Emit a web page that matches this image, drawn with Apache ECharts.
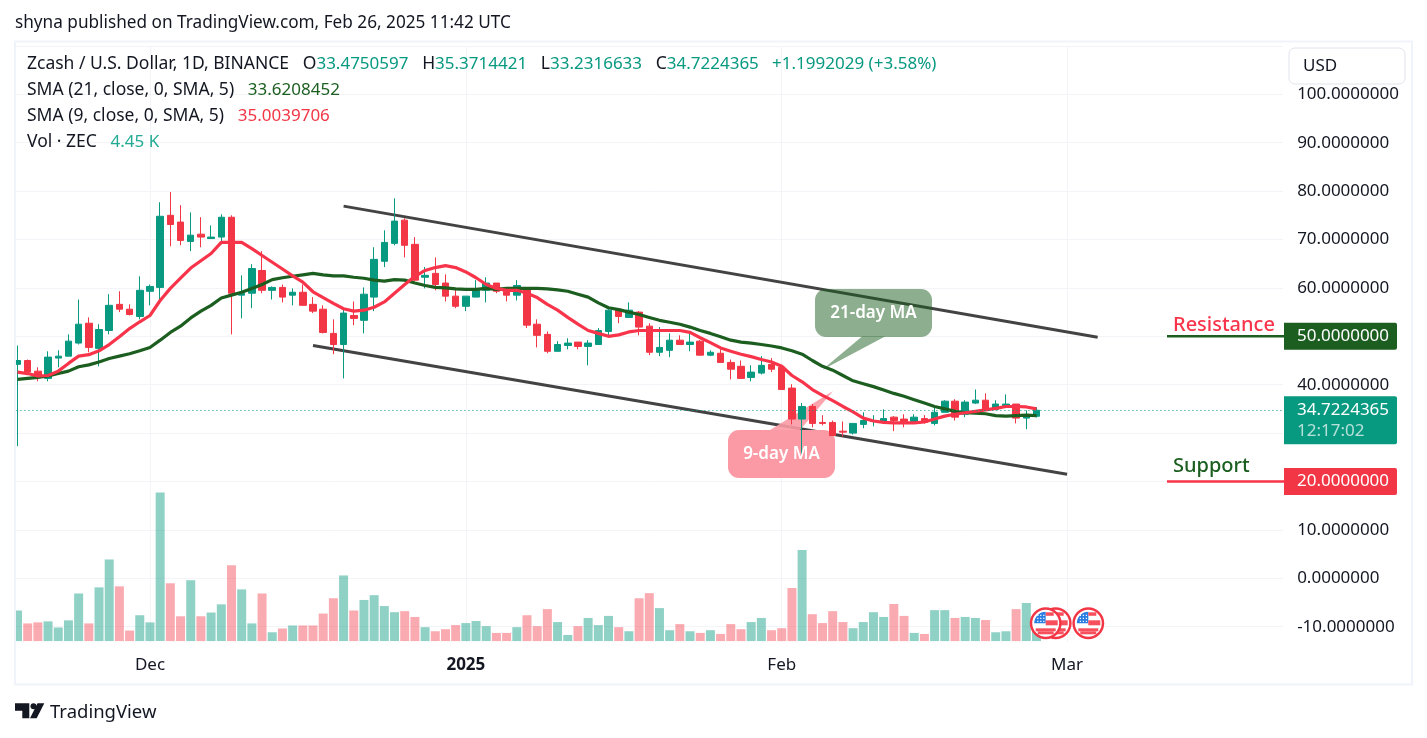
<!DOCTYPE html>
<html>
<head>
<meta charset="utf-8">
<script src="https://cdn.jsdelivr.net/npm/echarts@6/dist/echarts.min.js"></script>
<style>html,body{margin:0;padding:0;background:#fff}#c{width:1427px;height:738px}</style>
</head>
<body>
<div id="c"></div>
<script>
const startDate = '2024-11-18';
const tickDates = ['2024-12-01','2025-01-01','2025-02-01','2025-03-01'];
const tickLabels = ['Dec','2025','Feb','Mar'];
const priceTicks = [100,90,80,70,60,50,40,30,20,10,0,-10];

const opens = [44.2,45,42.8,41.3,45.5,45.9,48.6,52.7,47.5,51.2,
56.6,55.6,54.1,59.3,60.1,75,73.6,69.6,71.1,70.2,
70.5,74.6,58.5,58.9,63.6,59.5,60.1,58.5,59.1,56.6,
55.6,50.6,48.3,54.3,53.3,58.1,65.5,69.2,74,69,
62.2,63,61,58.3,56.2,58.1,59.5,61,59.3,58.5,
59.9,52.5,50.4,46.9,48.1,48.8,47.9,48.3,51,55.6,
53.9,55,52.1,46.7,47.1,49.2,48.3,49,46.1,46.5,
44.6,43.8,41.5,42.4,44.2,43.6,39.3,32.9,35.5,32.2,
32.2,30.4,30,31.8,32.4,32.4,33.3,32.9,32.4,33,
32,34.3,36.6,33.9,36.2,36.8,34.9,35.7,36,33.1,33.475];
const closes = [45,42.6,41.5,45.7,45.9,49,52.5,47.7,51.4,56.4,
55.6,54.5,59.5,60.3,74.8,73.1,69.8,70.9,70.5,70.5,
74.6,58.9,58.9,64,59.5,60.1,58.1,59.1,56.4,55.2,
50.8,48.3,54.8,53.7,58.7,65.9,69.4,73.8,68.8,61.6,
62.6,60.7,58.3,56.2,58.3,59.5,61,59.3,58.5,60.5,
52.3,50.2,46.9,48.3,48.6,47.9,48.6,51.2,55.4,54.1,
55.4,51.9,46.7,47.7,49.2,48.3,48.8,46.1,46.7,44.6,
43.2,41.3,42.6,44,43.2,39,32.9,35.5,32,32,
29.5,30.2,32,32.6,32.6,33,32.6,32.4,33.3,32.2,
34.3,36.6,33.3,36.4,36.8,34.9,36,36,33.1,33.7,34.722];
const highs = [48.1,45.2,43.6,46.9,47.1,50.4,57.6,53.9,52.5,58.7,
59.3,56.6,62.4,60.7,77.7,79.8,77.1,75.6,74.6,72.9,
75.2,75,62.6,64.9,67.6,60.3,60.7,59.9,60.7,58.1,
56.4,53.5,56,57.2,60.1,68.4,71.9,78.5,74.4,70.5,
64.3,66.3,62.8,59.7,58.3,61.6,62.2,61,59.9,61.6,
60.1,53.5,51,49,49.6,48.8,49.2,51.7,55.6,55.8,
57,55.2,52.7,51.9,50.6,50.2,50.6,49.2,47.1,47.3,
45.2,45,44,45.9,45.5,43.8,40.1,36.2,36,33.7,
32.6,32.4,32,34.3,33.7,34.9,33.5,33.9,33.9,33.7,
35.5,36.8,37,36.8,39,38.2,36.8,38,36,34.7,35.371];
const lows = [27.3,42.6,40.7,40.7,43.6,45.9,48.3,46.7,43.8,50.4,
55,54.3,53.5,56.4,57.4,68.6,68.8,67.6,68.4,70.2,
69,50.4,53.7,55.8,58.9,57.6,57,56.4,56.4,54.8,
50.6,46.3,41.3,52.3,50.6,55.2,64.3,68.8,66.3,61.4,
59.9,59.5,57.2,55.8,55.2,58.1,57,58.9,57.2,57.4,
51.7,47.7,46.5,46.9,47.3,47.3,44,48.3,50.2,52.7,
53.9,50.2,46.1,45.9,45.7,48.3,46.9,46.1,45.9,44.6,
41.1,41.3,40.7,42.1,42.6,39,31.8,25,31.2,31.6,
29.5,29.3,29.7,31,31.4,32.4,30.4,31.2,32.2,32,
31.6,34.3,32.6,33.3,36,34.7,34.7,35.5,32,30.8,33.232];
const volumes = [9,5.2,5.5,5.8,4,6.1,14,5.2,15.8,24,
16.1,3.1,7.6,5.5,43.7,17,7.3,17.9,7.3,8.4,
10.8,22.3,15.2,5.2,14,2.6,3.7,4.6,4.6,4.6,
8.1,12.6,19.3,9,12.1,13.5,10.3,8.5,8.8,7.1,
4.1,2.9,3.5,4.7,5.3,5.9,4.4,2.4,2.4,4.1,
7.6,4.4,9.4,5.6,1.8,4.4,6.8,4.7,7.4,4.1,
2.9,12.6,14.1,9.7,3.2,5,2.9,2.4,3.2,2.1,
5,3.5,5.6,6.8,3.2,3.8,15.6,26.8,7.9,5.3,
8.8,5.6,3.8,5.6,8.5,7.1,10.9,7.4,2.4,2.1,
9.1,9.1,6.8,7.1,6.8,6.2,2.6,2.9,9.4,11.2,4.45];
const sma21 = [41.1,41.3,41.5,41.8,42.3,42.8,43.7,44.1,44.7,45.4,
45.9,46.4,47,47.7,49.2,50.8,52.1,53.8,55.2,56.4,
57.9,58.5,59.1,59.9,60.7,61.7,62.1,62.4,62.7,63,
62.7,62.5,62.5,62.2,62,61.6,61.4,61.7,61.6,61,
60.5,60.1,60,59.8,59.7,59.7,59.9,59.7,59.9,59.9,
59.9,59.9,59.8,59.6,59.3,58.7,58.1,56.9,55.9,55.5,
55,54.5,53.9,53.3,52.9,52.5,51.9,51.2,50.6,49.9,
49.2,48.8,48.6,48.3,48,47.6,47,46.3,45,43.8,
43,41.9,40.8,40.2,39.6,38.9,38.2,37.6,36.9,36.2,
35.5,35,34.5,34.2,34.1,34,33.6,33.5,33.6,33.7,33.62];
const sma9 = [42.6,42.3,41.8,41.9,42.8,44.4,45.9,46.2,47,48.3,
49.9,51.6,53,54.3,57.4,59.9,62,64.1,65.6,67.1,
69.4,69.4,69.4,68.1,66.7,65.3,63.9,62.5,61.2,59.2,
58,56.8,55.7,55.2,55.4,56,57.1,58.9,60.7,62.4,
63.6,64.2,64.6,64.2,63.3,62.1,60.7,59.9,59.5,59.5,
58.9,58,56.6,55.4,53.9,52.5,51.2,50.6,50,50.3,
50.9,51.2,51.2,51.2,51.2,51.2,50.8,49.7,48.7,47.6,
46.9,46.3,45.8,45.2,44.7,43.8,41.9,40.6,39,37.8,
36.7,35.5,34.4,33.1,32.5,32.2,32.1,32.1,32.1,32.3,
32.9,33.5,33.9,34.2,34.5,34.8,35.1,35.5,35.5,35.4,35];
const upperChannel = [[32,76.9],[106,49.8]];
const lowerChannel = [[29,48.1],[103,21.5]];
const lastPrice = 34.7224365;
const resistance = 50, support = 20;

const UP='#089981', DOWN='#F23645', DKGREEN='#1B5E20', RED='#F7344A', INK='#131722', BORDER='#F0F3FA', GRID='#F3F4F7';
const FONT='"Noto Sans", sans-serif';
const totalBands = 125;
const categories = [];
for (let i=0;i<totalBands;i++){ const d=new Date(startDate+'T00:00:00Z'); d.setUTCDate(d.getUTCDate()+i); categories.push(d.toISOString().slice(0,10)); }

const chart = echarts.init(document.getElementById('c'), null, {renderer:'canvas'});
const candles = opens.map((o,i)=>[o,closes[i],lows[i],highs[i]]);
const volData = volumes.map((v,i)=>({value:v,itemStyle:{color:(closes[i]>=opens[i])?'rgba(8,153,129,0.45)':'rgba(242,54,69,0.42)'}}));
const showTick = (i)=> tickDates.indexOf(categories[i])>=0;

const gridRect = {left:12.4, width:1273.75, top:45.9, height:629.2};
chart.setOption({
  animation:false, backgroundColor:'#fff',
  grid:{left:gridRect.left, top:gridRect.top, width:gridRect.width, height:gridRect.height, containLabel:false},
  xAxis:[
    {type:'category', data:categories, z:5, boundaryGap:true, axisLine:{show:false}, axisTick:{show:false}, splitLine:{show:false},
     axisLabel:{inside:true, margin:1, interval:(i)=>showTick(i), hideOverlap:false, fontFamily:FONT, fontSize:17, color:INK,
       formatter:(v)=>{const k=tickDates.indexOf(v); if(k<0) return ''; return tickLabels[k]==='2025'?'{b|2025}':tickLabels[k];},
       rich:{b:{fontFamily:FONT,fontSize:17,fontWeight:'bold',color:INK}}}},
    {type:'category', data:categories, z:0, boundaryGap:true, axisLine:{show:false}, axisTick:{show:false}, axisLabel:{show:false},
     splitLine:{show:true, alignWithLabel:true, interval:(i)=>showTick(i), lineStyle:{color:GRID,width:1}}}
  ],
  yAxis:[
    {type:'value', min:-20, max:110, interval:10, position:'right', z:5, axisLine:{show:false}, axisTick:{show:false}, splitLine:{show:false},
     axisLabel:{inside:false, margin:11, align:'left', fontFamily:FONT, fontSize:17, color:INK,
       formatter:(v)=>priceTicks.indexOf(v)>=0? v.toFixed(7):''}},
    {type:'value', min:-10, max:175, show:false, splitLine:{show:false}},
    {type:'value', min:-20, max:110, interval:10, position:'right', z:0, axisLine:{show:false}, axisTick:{show:false}, axisLabel:{show:false},
     splitLine:{show:true, lineStyle:{color:GRID,width:1}}}
  ],
  series:[
    {type:'bar', name:'Vol', xAxisIndex:0, yAxisIndex:1, data:volData, barWidth:9, z:1, silent:true},
    {type:'line', name:'upper', xAxisIndex:0, yAxisIndex:0, data:upperChannel, z:1, showSymbol:false, symbol:'none', lineStyle:{color:'#434343',width:3}, silent:true},
    {type:'line', name:'lower', xAxisIndex:0, yAxisIndex:0, data:lowerChannel, z:1, showSymbol:false, symbol:'none', lineStyle:{color:'#434343',width:3}, silent:true},
    {type:'candlestick', name:'ZEC', xAxisIndex:0, yAxisIndex:0, data:candles, barWidth:7, z:3, silent:true,
     itemStyle:{color:UP,color0:DOWN,borderColor:UP,borderColor0:DOWN,borderWidth:1},
     markLine:{symbol:'none',silent:true,label:{show:false},animation:false,data:[{yAxis:lastPrice}],lineStyle:{color:UP,type:[1,3],width:1}}},
    {type:'line', name:'SMA21', xAxisIndex:0, yAxisIndex:0, data:sma21, z:4, showSymbol:false, symbol:'none', lineStyle:{color:DKGREEN,width:3.2}, silent:true},
    {type:'line', name:'SMA9', xAxisIndex:0, yAxisIndex:0, data:sma9, z:4, showSymbol:false, symbol:'none', lineStyle:{color:RED,width:3.2}, silent:true}
  ]
});

const py = v => chart.convertToPixel({yAxisIndex:0}, v);
const els = [];
// masks (above grid lines, below labels)
els.push({type:'rect',z:1,silent:true,shape:{x:1283,y:42,width:130,height:643},style:{fill:'#fff'}});
els.push({type:'rect',z:1,silent:true,shape:{x:15,y:642.5,width:1270,height:43},style:{fill:'#fff'}});
els.push({type:'rect',z:9,silent:true,shape:{x:0,y:42,width:14.5,height:643},style:{fill:'#fff'}});
// frame
els.push({type:'rect',z:10,silent:true,shape:{x:15,y:41.5,width:1397,height:643},style:{fill:'none',stroke:BORDER,lineWidth:2}});
// speech bubbles
els.push({type:'polygon',z:2,silent:true,shape:{points:[[862,336.5],[885,336.5],[822,370]]},style:{fill:'rgba(27,94,32,0.5)'}});
els.push({type:'rect',z:2,silent:true,shape:{x:815,y:289,width:117,height:48,r:11},style:{fill:'rgba(27,94,32,0.5)'}});
els.push({type:'polygon',z:2,silent:true,shape:{points:[[770,430],[800,430],[833,391]]},style:{fill:'#FB9AA4',opacity:0.9}});
els.push({type:'rect',z:2,silent:true,shape:{x:728,y:430,width:107,height:48,r:11},style:{fill:'#FB9AA4'}});
els.push({type:'text',z:8,silent:true,x:873.5,y:313,style:{text:'21-day MA',fill:'#fff',font:'600 17px '+FONT,align:'center',verticalAlign:'middle'}});
els.push({type:'text',z:8,silent:true,x:781.5,y:454,style:{text:'9-day MA',fill:'#fff',font:'600 17px '+FONT,align:'center',verticalAlign:'middle'}});
// levels
const yR=py(resistance), yS=py(support), yL=py(lastPrice);
els.push({type:'line',z:8,silent:true,shape:{x1:1167,y1:yR,x2:1284,y2:yR},style:{stroke:DKGREEN,lineWidth:2.5}});
els.push({type:'line',z:8,silent:true,shape:{x1:1167,y1:yS,x2:1284,y2:yS},style:{stroke:RED,lineWidth:2.5}});
els.push({type:'text',z:8,silent:true,x:1173,y:yR-11.5,style:{text:'Resistance',fill:RED,font:'500 20px '+FONT,verticalAlign:'middle'}});
els.push({type:'text',z:8,silent:true,x:1173,y:yS-15.5,style:{text:'Support',fill:DKGREEN,font:'500 20px '+FONT,verticalAlign:'middle'}});
// price tags
const tag=(y0,h,fill)=>els.push({type:'rect',z:8,silent:true,shape:{x:1284,y:y0,width:113,height:h,r:[0,2,2,0]},style:{fill}});
const tagText=(y,t,fill)=>els.push({type:'text',z:9,silent:true,x:1297,y,style:{text:t,fill,font:'17px '+FONT,verticalAlign:'middle'}});
tag(yR-13.5,27,DKGREEN); tagText(yR,resistance.toFixed(7),'#fff');
tag(yS-13.5,27,DOWN); tagText(yS,support.toFixed(7),'#fff');
tag(yL-14,48,UP); tagText(yL,lastPrice.toFixed(7),'#fff');
els.push({type:'text',z:9,silent:true,x:1297,y:yL+21,style:{text:'12:17:02',fill:'rgba(255,255,255,0.7)',font:'17px '+FONT,verticalAlign:'middle'}});
// USD button
els.push({type:'rect',z:10,silent:true,shape:{x:1289,y:48,width:116,height:36,r:6},style:{fill:'#fff',stroke:'#E0E3EB',lineWidth:1}});
els.push({type:'text',z:11,silent:true,x:1303,y:66,style:{text:'USD',fill:INK,font:'17px '+FONT,verticalAlign:'middle'}});
// headers
const rt=(y,text,rich)=>els.push({type:'text',z:11,silent:true,x:27,y,style:{text,verticalAlign:'middle',font:'17.5px '+FONT,fill:INK,rich}});
const K={fontFamily:FONT,fontSize:17.5,fill:INK}, V=(c)=>({fontFamily:FONT,fontSize:17,fill:c});
rt(64.5,'{k|Zcash / U.S. Dollar, 1D, BINANCE   O}{v|33.4750597}{k|   H}{v|35.3714421}{k|   L}{v|33.2316633}{k|   C}{v|34.7224365}{v|   +1.1992029 (+3.58%)}',
   {k:K,v:V(UP)});
rt(90.5,'{k|SMA (21, close, 0, SMA, 5)   }{g|33.6208452}',{k:K,g:V(DKGREEN)});
rt(116.5,'{k|SMA (9, close, 0, SMA, 5)   }{r|35.0039706}',{k:K,r:V(DOWN)});
rt(142.5,'{k|Vol · ZEC   }{v|4.45 K}',{k:K,v:V('#22AB94')});
els.push({type:'text',z:11,silent:true,x:15,y:23,style:{text:'shyna published on TradingView.com, Feb 26, 2025 11:42 UTC',fill:INK,font:'17.2px '+FONT,verticalAlign:'middle'}});
// logo
els.push({type:'polygon',z:11,silent:true,shape:{points:[[15,703.3],[29.3,703.3],[29.3,718.3],[22.3,718.3],[22.3,710.7],[15,710.7]]},style:{fill:INK}});
els.push({type:'circle',z:11,silent:true,shape:{cx:33.5,cy:706.3,r:3},style:{fill:INK}});
els.push({type:'polygon',z:11,silent:true,shape:{points:[[37.5,703.3],[44.3,703.3],[36.7,718.3],[30,718.3]]},style:{fill:INK}});
els.push({type:'text',z:11,silent:true,x:50,y:713,style:{text:'TradingView',fill:INK,font:'18.5px '+FONT,verticalAlign:'middle'}});
// flags (second below first)
function flag(cx,cy,z){
  els.push({type:'circle',z,silent:true,shape:{cx,cy,r:14.7},style:{fill:'#fff',stroke:'#F23645',lineWidth:2.5}});
  els.push({type:'sector',z,silent:true,shape:{cx,cy,r0:0,r:11.5,startAngle:Math.PI,endAngle:1.5*Math.PI},style:{fill:'#2A7DE1'}});
  [[0,-11,8,3.5],[0,-3,12,5],[-10,5,20,3],[-8,8,16,3]].forEach(s=>els.push({type:'rect',z,silent:true,shape:{x:cx+s[0],y:cy+s[1],width:s[2],height:s[3]},style:{fill:'#F7505C'}}));
  for(let a=0;a<3;a++)for(let b=0;b<3;b++)els.push({type:'rect',z,silent:true,shape:{x:cx-8.5+a*3,y:cy-8.5+b*3,width:1.2,height:1.2},style:{fill:'#fff'}});
}
flag(1088.3,623.3,7); flag(1055.7,623.3,7); flag(1045.7,623.3,8);
chart.setOption({graphic:{elements:els}});
</script>
</body>
</html>
